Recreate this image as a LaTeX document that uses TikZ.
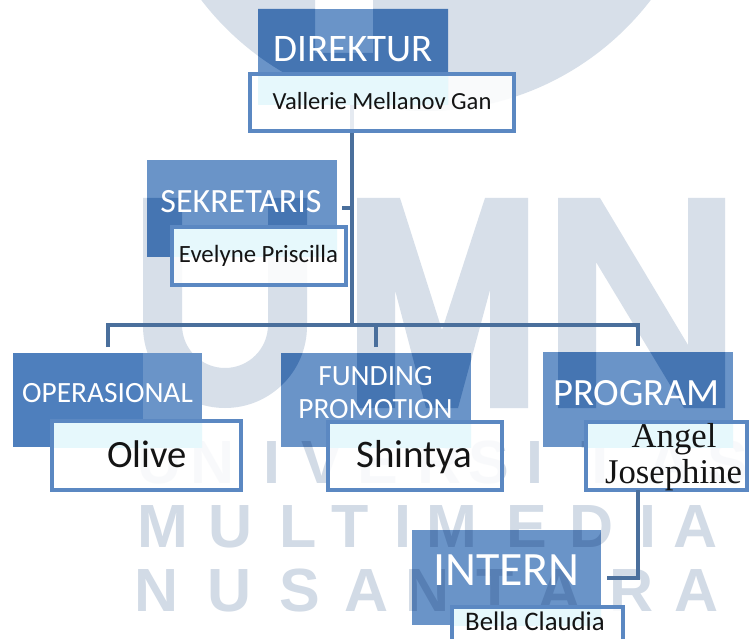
\documentclass[tikz,border=0pt]{standalone}
\usepackage{fontspec}
\newfontfamily\calib{Carlito}
\newfontfamily\tms{Liberation Serif}
\newfontfamily\wmfont{Liberation Sans}
\definecolor{wm}{HTML}{D7DFE9}
\definecolor{wmlet}{HTML}{D2DBE6}
\definecolor{ttl}{HTML}{6A94C8}
\definecolor{ttldk}{HTML}{4575B2}
\definecolor{ttlmid}{HTML}{4E7FBD}
\definecolor{conn}{HTML}{4A6F9C}
\definecolor{nbord}{HTML}{5B88C2}
\definecolor{tint}{HTML}{E6F8FC}
\newcommand\wmshapes[1]{%
  \fill[#1,even odd rule] (426,-172) circle[radius=283] (315,-250) rectangle (373,53);
  \fill[#1] (143,198) -- (143,326) arc[start angle=180,end angle=0,radius=82]
     -- (307,198) -- (268,198) -- (268,325) arc[start angle=0,end angle=180,radius=43]
     -- (182,198) -- cycle;
  \fill[#1] (357,408) -- (357,198) -- (400,198) -- (442,330) -- (485,198) -- (528,198)
     -- (528,408) -- (490,408) -- (490,290) -- (458,408) -- (426,408) -- (395,290)
     -- (395,408) -- cycle;
  \fill[#1] (558,408) -- (558,198) -- (600,198) -- (688,345) -- (688,198) -- (725,198)
     -- (725,408) -- (684,408) -- (596,262) -- (596,408) -- cycle;
}
\begin{document}
\begin{tikzpicture}[x=1pt,y=-1pt,
  wml/.style={anchor=base,inner sep=0pt,text=wmlet,font=\wmfont\bfseries\fontsize{61}{61}\selectfont},
  ttlbox/.style={fill=ttl,draw=none,inner sep=0pt,outer sep=0pt},
  namebox/.style={fill=white,fill opacity=0.86,draw=nbord,line width=3.5pt,inner sep=0pt,outer sep=0pt},
  ttltext/.style={text=white,inner sep=0pt,anchor=base,font=\calib\fontsize{#1}{#1}\selectfont},
  nametext/.style={text=black!92,inner sep=0pt,anchor=base,font=\calib\fontsize{#1}{#1}\selectfont},
  serifname/.style={text=black!92,inner sep=0pt,anchor=base,font=\tms\fontsize{34.7}{34.7}\selectfont},
  conn/.style={draw=conn,line width=4pt}]
\useasboundingbox (0,0) rectangle (750,639);
\clip (0,0) rectangle (750,639);
\fill[white] (0,0) rectangle (750,639);
% watermark shapes
\wmshapes{wm}
% title boxes
\node[ttlbox,minimum width=190pt,minimum height=96pt] (dirT) at (353,57) {};
\node[ttlbox,minimum width=190pt,minimum height=97pt] (sekT) at (242,208.5) {};
\node[ttlbox,minimum width=189pt,minimum height=94pt] (opT) at (107.5,400) {};
\node[ttlbox,minimum width=190pt,minimum height=94pt] (fuT) at (376,400) {};
\node[ttlbox,minimum width=190pt,minimum height=95pt] (prT) at (638,399.5) {};
\node[ttlbox,minimum width=189pt,minimum height=95pt] (inT) at (506.5,577.5) {};
% watermark shapes seen through the title boxes
\begin{scope}
  \clip (dirT.north west) rectangle (dirT.south east)
        (sekT.north west) rectangle (sekT.south east)
        (fuT.north west) rectangle (fuT.south east)
        (prT.north west) rectangle (prT.south east)
        (inT.north west) rectangle (inT.south east);
  \wmshapes{ttldk}
\end{scope}
\fill[ttlmid] (opT.north west) rectangle (143,447);
% watermark lettering (multiplied over everything below it)
\begin{scope}[blend mode=multiply]
  \foreach \c/\x [count=\i] in {U/160,N/213,I/272,V/322,E/378,R/440,S/489,I/535,T/600,A/670,S/728}
    {\node[wml] (wa\i) at (\x,483) {\c};}
  \foreach \c/\x [count=\i] in {M/163,U/231,L/298,T/350,I/403,M/452,E/527,D/592,I/648,A/696}
    {\node[wml] (wb\i) at (\x,547) {\c};}
  \foreach \c/\x [count=\i] in {N/157,U/230,S/300,A/367,N/428,T/495,A/560,R/632,A/697}
    {\node[wml] (wc\i) at (\x,611) {\c};}
\end{scope}
% title texts
\node[ttltext=39] (dirTx) at (353,62) {DIREKTUR};
\node[ttltext=34] (sekTx) at (241,213) {SEKRETARIS};
\node[ttltext=29.4] (opTx) at (107.5,402) {OPERASIONAL};
\node[ttltext=29.4] (fuTx1) at (375.5,385) {FUNDING};
\node[ttltext=29.4] (fuTx2) at (375.5,418) {PROMOTION};
\node[ttltext=38.6] (prTx) at (636.5,405) {PROGRAM};
\node[ttltext=47.9] (inTx) at (506.5,585) {INTERN};
% connectors
\coordinate (trunk) at (352,325);
\draw[conn] (dirT.south -| trunk) -- (trunk);
\draw[conn] ([xshift=5pt]sekT.east) -- (sekT.east -| trunk);
\draw[conn] ([yshift=6pt]opT.north) -- (opT.north |- trunk) -- (prT.north |- trunk) -- ([yshift=6pt]prT.north);
\draw[conn] ([yshift=6pt]fuT.north) -- (fuT.north |- trunk);
% name boxes
\node[namebox,minimum width=264pt,minimum height=57pt] (dirN) at (382,102.3) {};
\node[namebox,minimum width=174pt,minimum height=58pt] (sekN) at (259,256) {};
\node[namebox,minimum width=189pt,minimum height=69pt] (opN) at (146.5,455.5) {};
\node[namebox,minimum width=174pt,minimum height=68pt] (fuN) at (415,456) {};
\node[namebox,minimum width=161pt,minimum height=68pt] (anN) at (666.5,456) {};
\draw[conn] (anN.south -| prT.north) -- (prT.north |- inT.east) -- ([xshift=6pt]inT.east);
\node[namebox,minimum width=171pt,minimum height=52pt] (beN) at (537.5,633) {};
% tint where a name box lies over its title box
\foreach \t/\n in {dirT/dirN,sekT/sekN,opT/opN,fuT/fuN,prT/anN,inT/beN}{
  \begin{scope}
    \clip (\t.north west) rectangle (\t.south east);
    \fill[tint] ([shift={(1.75pt,-1.75pt)}]\n.north west) rectangle ([shift={(-1.75pt,1.75pt)}]\n.south east);
  \end{scope}
}
% name texts
\node[nametext=24.6] (dirNx) at (382,109.5) {Vallerie Mellanov Gan};
\node[nametext=24.8] (sekNx) at (258.5,263) {Evelyne Priscilla};
\node[nametext=38.6] (opNx) at (147,467) {Olive};
\node[nametext=39] (fuNx) at (414.5,467) {Shintya};
\node[serifname] (anNx1) at (674,447) {Angel};
\node[serifname] (anNx2) at (673.5,483) {Josephine};
\node[nametext=26.8] (beNx) at (535,630) {Bella Claudia};
\end{tikzpicture}
\end{document}
